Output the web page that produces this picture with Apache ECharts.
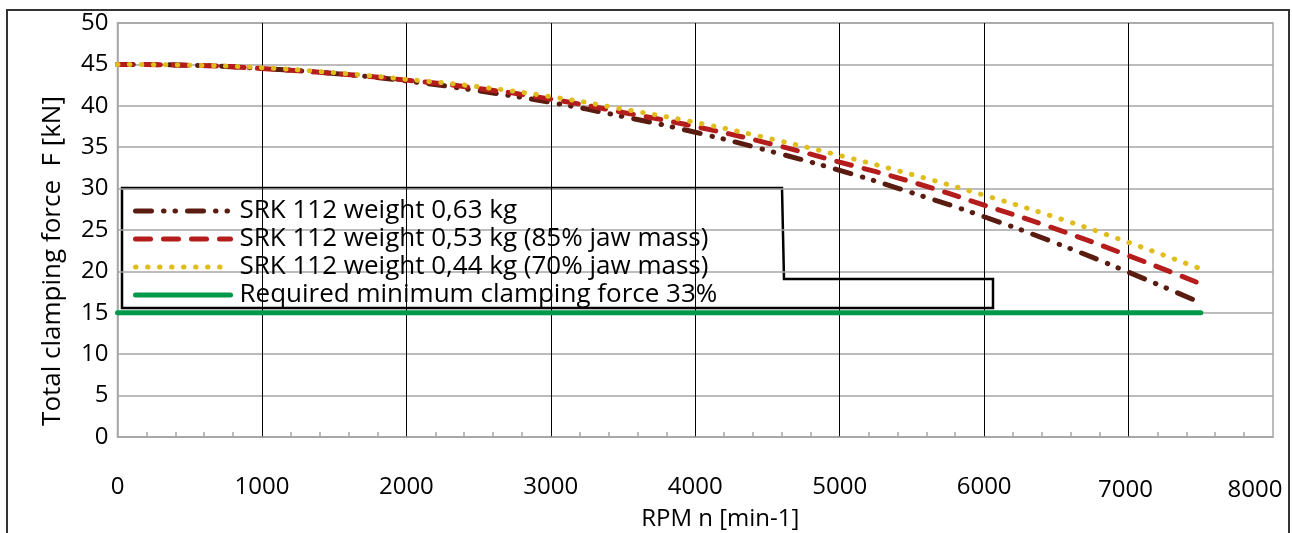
<!DOCTYPE html>
<html>
<head>
<meta charset="utf-8">
<script src="https://cdn.jsdelivr.net/npm/echarts@6/dist/echarts.min.js"></script>
<style>
  html, body { margin: 0; padding: 0; background: #fff; }
  #main { width: 1292px; height: 533px; }
</style>
</head>
<body>
<div id="main"></div>
<script>
// rpm steps
var rpm = [0, 500, 1000, 1500, 2000, 2500, 3000, 3500, 4000, 4500, 5000, 5500, 6000, 6500, 7000, 7500];
var force063 = [45, 44.9, 44.5, 43.9, 43.0, 41.8, 40.4, 38.7, 36.8, 34.6, 32.2, 29.5, 26.6, 23.4, 19.9, 16.2];
var force053 = [45, 44.9, 44.5, 43.9, 43.1, 42.1, 40.8, 39.2, 37.5, 35.5, 33.2, 30.8, 28.0, 25.1, 21.9, 18.5];
var force044 = [45, 44.9, 44.6, 44.0, 43.2, 42.3, 41.1, 39.6, 38.0, 36.1, 34.0, 31.7, 29.2, 26.5, 23.5, 20.3];
var minForce = [15, 15];
var minRpm = [0, 7500];
var seriesNames = [
  "SRK 112 weight 0,63 kg",
  "SRK 112 weight 0,53 kg (85% jaw mass)",
  "SRK 112 weight 0,44 kg (70% jaw mass)",
  "Required minimum clamping force 33%"
];

function pairs(xs, ys) {
  return xs.map(function (x, i) { return [x, ys[i]]; });
}

var font = "Open Sans";
var chart = echarts.init(document.getElementById("main"));

var option = {
  animation: false,
  textStyle: { fontFamily: font },
  grid: {
    left: 117.5, right: 19, top: 23, bottom: 96,
    outerBoundsMode: "none",
    containLabel: false,
    show: true, borderColor: "#a6a6a6", borderWidth: 1.5
  },
  legend: {
    orient: "vertical",
    left: 128, top: 193,
    itemWidth: 95, itemHeight: 14, itemGap: 2,
    itemStyle: { opacity: 0 },
    lineStyle: { width: 5 },
    textStyle: { fontSize: 26, lineHeight: 26, color: "#000", fontFamily: font, padding: [0, 0, 0, 4] },
    data: seriesNames
  },
  xAxis: {
    type: "value",
    min: 0, max: 8000, interval: 1000,
    name: "RPM n [min-1]",
    nameLocation: "middle",
    nameGap: 68,
    nameTextStyle: { fontSize: 24, color: "#000", padding: [0, 0, 0, 50] },
    axisLine: { lineStyle: { color: "#a6a6a6", width: 1.5 } },
    axisTick: { show: false, inside: true },
    minorTick: { show: true, splitNumber: 5, length: 5, lineStyle: { color: "#a6a6a6", width: 1.5 } },
    axisLabel: {
      fontSize: 24, color: "#000", margin: 38,
      formatter: function (v) {
        if (v === 8000) return "{last|" + v + "}";
        if (v === 7000) return "{low|" + v + "}";
        return String(v);
      },
      rich: {
        last: { fontSize: 24, color: "#000", padding: [3, 36, 0, 0] },
        low: { fontSize: 24, color: "#000", padding: [3, 6, 0, 0] }
      }
    },
    splitLine: { show: true, showMinLine: false, showMaxLine: false, lineStyle: { color: "#000", width: 1 } }
  },
  yAxis: {
    type: "value",
    min: 0, max: 50, interval: 5,
    name: "Total clamping force  F [kN]",
    nameLocation: "middle",
    nameGap: 52,
    nameTextStyle: { fontSize: 26, color: "#000", padding: [0, 62, 0, 0] },
    axisLine: { show: true, lineStyle: { color: "#a6a6a6", width: 1.5 } },
    axisTick: { show: false },
    axisLabel: { fontSize: 24, color: "#000", margin: 9 },
    splitLine: { lineStyle: { color: "#a6a6a6", width: 1.5 } }
  },
  series: [
    {
      name: seriesNames[0], type: "line", showSymbol: false, symbol: "none",
      data: pairs(rpm, force063), smooth: true,
      lineStyle: { color: "#5a1c10", width: 5, cap: "round", type: [16, 12, 0.5, 11, 0.5, 12] },
      itemStyle: { color: "#5a1c10" }
    },
    {
      name: seriesNames[1], type: "line", showSymbol: false, symbol: "none",
      data: pairs(rpm, force053), smooth: true,
      lineStyle: { color: "#b51c1c", width: 5, cap: "round", type: [15, 13] },
      itemStyle: { color: "#b51c1c" }
    },
    {
      name: seriesNames[2], type: "line", showSymbol: false, symbol: "none",
      data: pairs(rpm, force044), smooth: true,
      lineStyle: { color: "#e0bd1e", width: 5, cap: "round", type: [0.5, 11.5] },
      itemStyle: { color: "#e0bd1e" }
    },
    {
      name: seriesNames[3], type: "line", showSymbol: false, symbol: "none",
      data: pairs(minRpm, minForce),
      lineStyle: { color: "#00984a", width: 5, cap: "round" },
      itemStyle: { color: "#00984a" }
    }
  ],
  graphic: [
    {
      type: "rect", silent: true,
      shape: { x: 7, y: 10, width: 1282, height: 540 },
      style: { fill: null, stroke: "#333", lineWidth: 2 }
    },
    {
      type: "polygon", silent: true,
      shape: { points: [[122, 188], [782, 188], [784, 279], [993, 279], [993, 308], [122, 308]] },
      style: { fill: null, stroke: "#000", lineWidth: 2.5 }
    }
  ]
};

chart.setOption(option);
</script>
</body>
</html>
